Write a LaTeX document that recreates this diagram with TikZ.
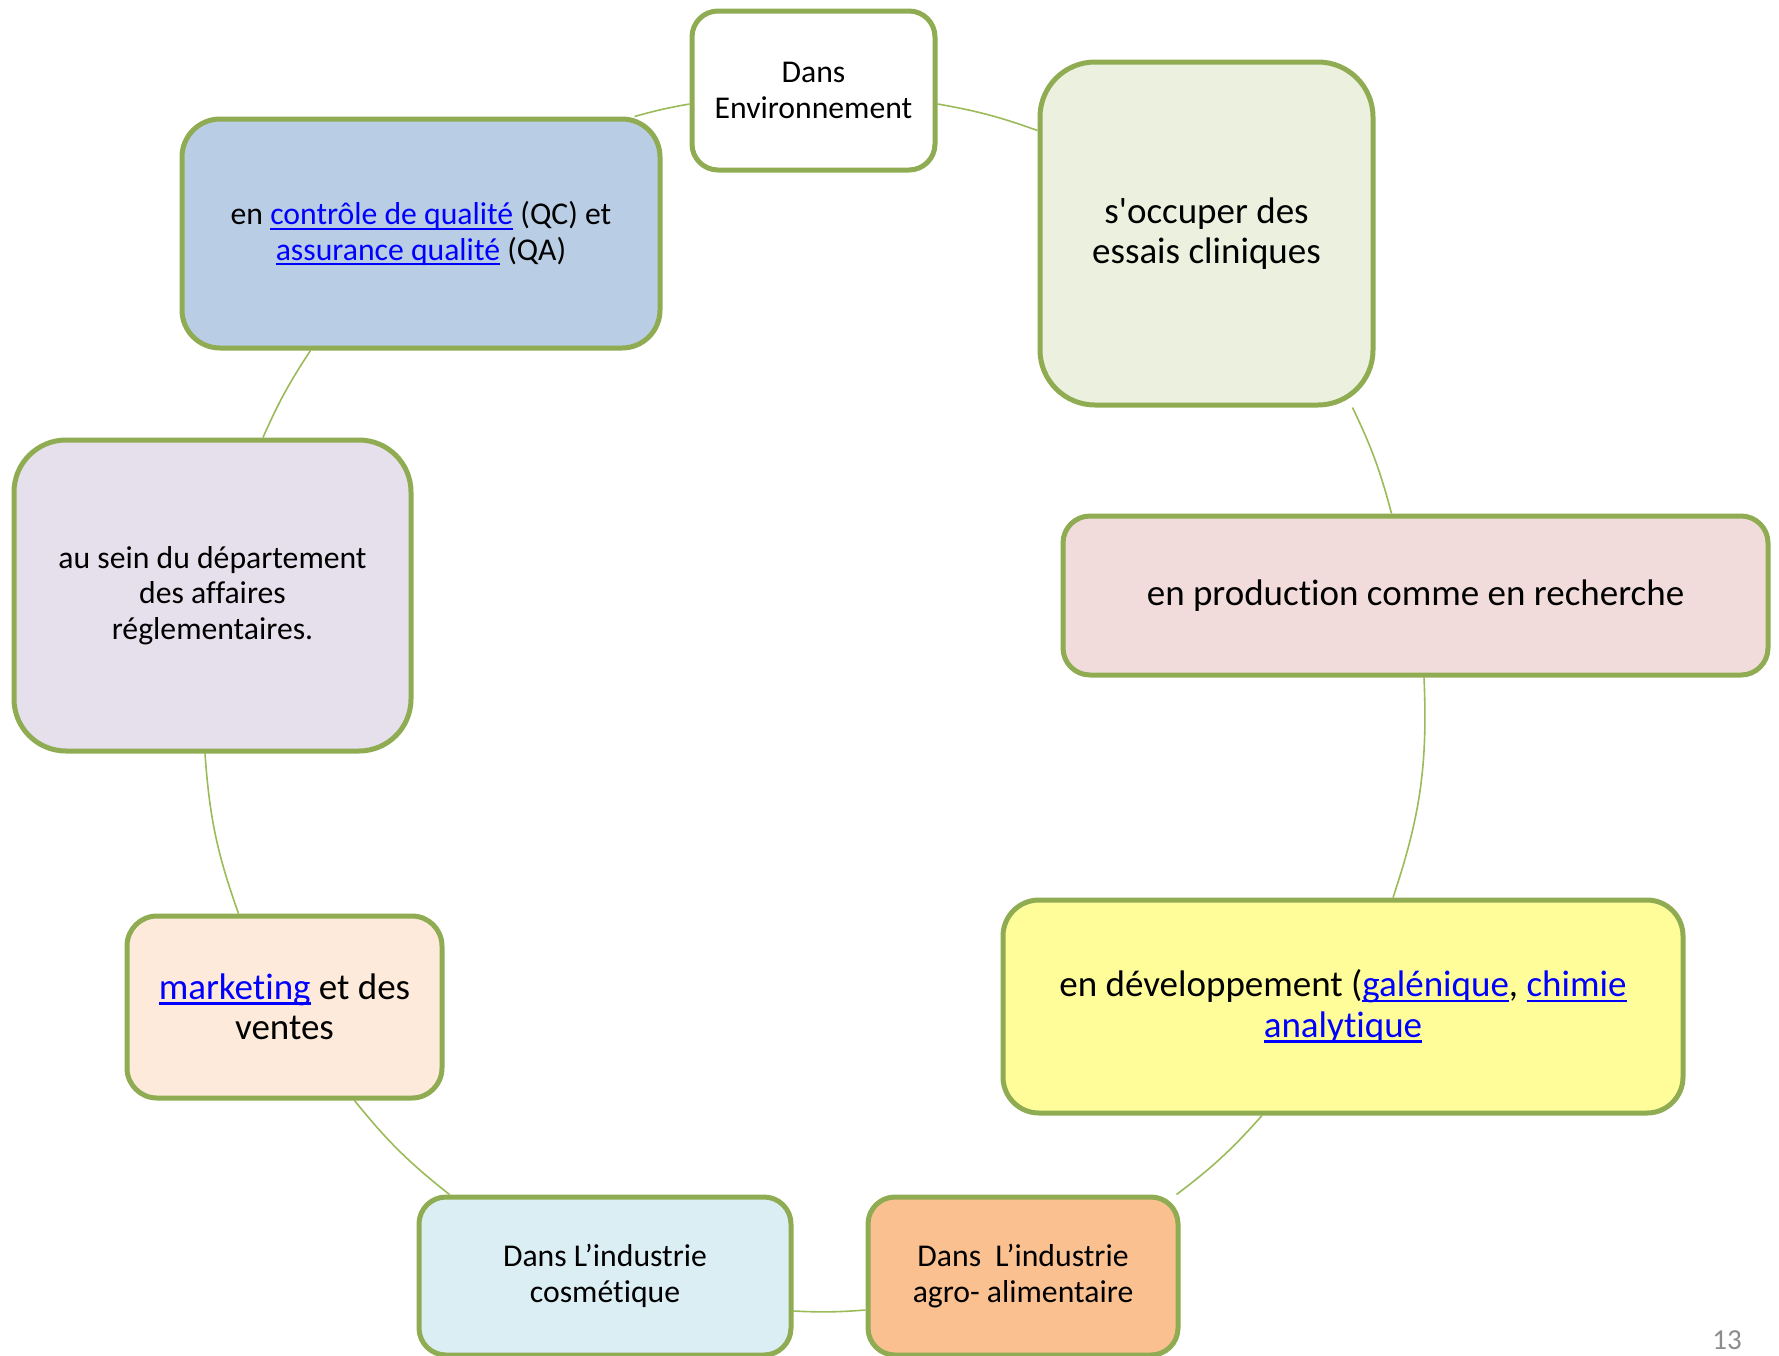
\documentclass[tikz,border=0pt]{standalone}
\usepackage{fontspec}
\setmainfont{Carlito}[Ligatures={TeXOff,CommonOff,ContextualOff},Contextuals=AlternateOff]
\usetikzlibrary{calc,backgrounds}

\definecolor{frame}{RGB}{143,172,83}
\definecolor{ring}{RGB}{155,187,89}
\definecolor{linkblue}{RGB}{0,0,255}
\definecolor{pagegray}{RGB}{140,140,140}
\definecolor{clinfill}{HTML}{EBF1DE}
\definecolor{qcfill}{HTML}{B9CDE5}
\definecolor{regfill}{HTML}{E6E0EC}
\definecolor{prodfill}{HTML}{F2DCDB}
\definecolor{devfill}{HTML}{FFFD9A}
\definecolor{agrofill}{HTML}{FAC090}
\definecolor{cosfill}{HTML}{DBEEF4}
\definecolor{mktfill}{HTML}{FDEADA}

\newcommand\txtS{\fontsize{31.7}{35.5}\selectfont}
\newcommand\txtL{\fontsize{37}{40.5}\selectfont}
% blue underlined hyperlink text, underline at a fixed depth
\newcommand\lnk[1]{{\color{linkblue}\setbox0\hbox{#1}\rlap{\rule[-5.2pt]{\wd0}{2.2pt}}\box0}}

\tikzset{
  box/.style={draw=frame, line width=5pt, align=center, inner sep=0pt},
  ringline/.style={draw=ring, line width=1.6pt}
}

\begin{document}
\begin{tikzpicture}[x=1pt,y=1pt]
\useasboundingbox (0,0) rectangle (1779,-1355);

% boxes of the cycle
\node[box, fill=white, minimum width=243pt, minimum height=159pt, rounded corners=26pt, font=\txtS]
  (env) at (813.5,-90.5) {Dans\\Environnement};
\node[box, fill=clinfill, minimum width=333pt, minimum height=343pt, rounded corners=55pt, font=\txtL]
  (clin) at (1206.5,-233.5) {s'occuper des\\essais cliniques};
\node[box, fill=prodfill, minimum width=705pt, minimum height=159pt, rounded corners=27pt, font=\txtL]
  (prod) at (1415.5,-595.5) {en production comme en recherche};
\node[box, fill=devfill, minimum width=680pt, minimum height=213pt, rounded corners=36pt, font=\txtL]
  (dev) at (1343,-1006.5) {en développement (\lnk{galénique}, \lnk{chimie}\\\lnk{analytique}};
\node[box, fill=agrofill, minimum width=310pt, minimum height=158pt, rounded corners=27pt, font=\txtS]
  (agro) at (1023,-1276) {Dans~ L’industrie\\agro- alimentaire};
\node[box, fill=cosfill, minimum width=372pt, minimum height=158pt, rounded corners=27pt, font=\txtS]
  (cos) at (605,-1276) {Dans L’industrie\\cosmétique};
\node[box, fill=mktfill, minimum width=315pt, minimum height=182pt, rounded corners=30pt, font=\txtL]
  (mkt) at (284.5,-1007) {\lnk{marketing} et des\\ventes};
\node[box, fill=regfill, minimum width=397pt, minimum height=311pt, rounded corners=52pt, font=\txtS]
  (reg) at (212.5,-595.5) {au sein du département\\des affaires\\réglementaires.};
\node[box, fill=qcfill, minimum width=478pt, minimum height=229pt, rounded corners=38pt, font=\txtS]
  (qc) at (421,-233.5) {en \lnk{contrôle de qualité} (QC) et\\\lnk{assurance qualité} (QA)};

% arcs of the ring joining neighbouring boxes
\begin{scope}[on background layer]
  \draw[ringline] ($(env.east)+(0,-13.5)$) to[bend left=4.9] ($(clin.north west)+(0,-71)$);
  \draw[ringline] ($(clin.south east)+(-23,0)$) to[bend left=5.4] ($(prod.north west)+(331,0)$);
  \draw[ringline] ($(prod.south)+(8.5,0)$) to[bend left=10.5] ($(dev.north)+(50,0)$);
  \draw[ringline] ($(dev.south)+(-81,0)$) to[bend left=5.6] ($(agro.north east)+(-4,0)$);
  \draw[ringline] ($(agro.west)+(0,-34)$) to[bend left=3.6] ($(cos.east)+(0,-35)$);
  \draw[ringline] ($(cos.north west)+(33,0)$) to[bend left=6.4] ($(mkt.south east)+(-90,0)$);
  \draw[ringline] ($(mkt.north west)+(114,0)$) to[bend left=7.8] ($(reg.south)+(-7.5,0)$);
  \draw[ringline] ($(reg.north)+(50.5,0)$) to[bend left=4.8] ($(qc.south west)+(131,0)$);
  \draw[ringline] ($(qc.north east)+(-28,0)$) to[bend left=2.8] ($(env.west)+(0,-13.5)$);
\end{scope}

% slide number
\node[text=pagegray, font=\fontsize{29}{34}\selectfont, inner sep=0pt] (pagenum) at (1727,-1340) {13};
\end{tikzpicture}
\end{document}
